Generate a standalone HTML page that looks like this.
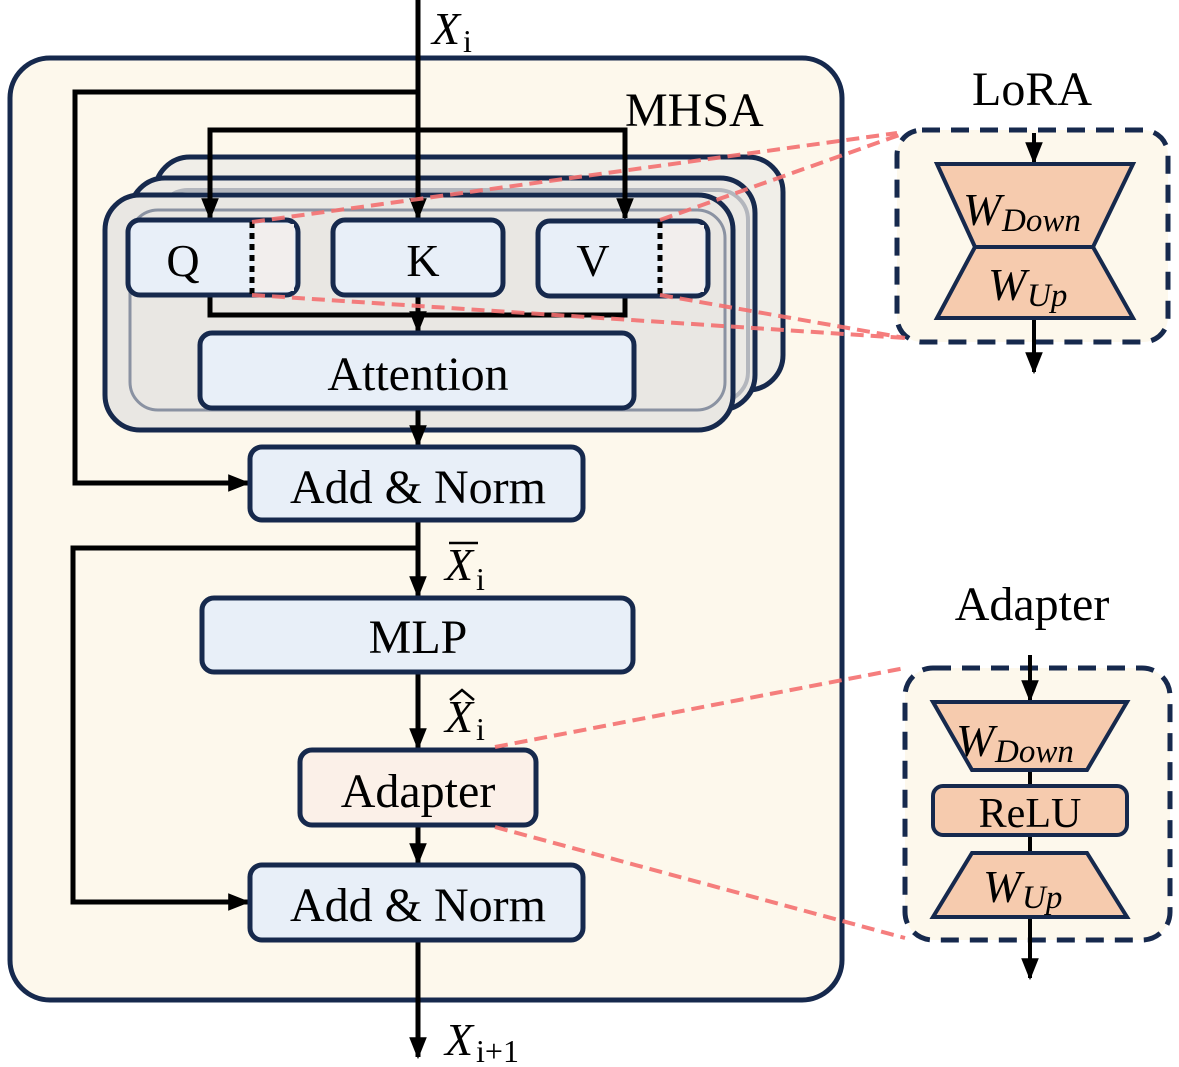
<!DOCTYPE html>
<html><head><meta charset="utf-8"><style>
html,body{margin:0;padding:0;background:#fff;}
svg{display:block;}
text{font-family:"Liberation Serif",serif;fill:#000;}
</style></head><body>
<svg width="1179" height="1067" viewBox="0 0 1179 1067" xmlns="http://www.w3.org/2000/svg">
<defs>
<marker id="a" viewBox="0 0 10 10" refX="9" refY="5" markerWidth="22" markerHeight="22" markerUnits="userSpaceOnUse" orient="auto"><path d="M0,1 L10,5 L0,9 z" fill="#000"/></marker>
</defs>
<rect x="10" y="58" width="832" height="942" rx="40" fill="#fdf8ec" stroke="#16294d" stroke-width="5"/>
<rect x="155" y="157" width="628" height="233" rx="35" fill="#f0eee8" stroke="#16294d" stroke-width="5"/>
<rect x="130" y="178" width="625" height="232" rx="35" fill="#ebe9e5" stroke="#16294d" stroke-width="5"/>
<rect x="158" y="190" width="590" height="212" rx="30" fill="none" stroke="#b3b6bd" stroke-width="4"/>
<rect x="105" y="195" width="628" height="235" rx="35" fill="#e9e7e3" stroke="#16294d" stroke-width="5"/>
<rect x="130" y="210" width="595" height="200" rx="28" fill="none" stroke="#8a92a2" stroke-width="3"/>
<text x="625" y="126" font-size="48">MHSA</text>
<g stroke="#000" stroke-width="5" fill="none">
<line x1="418" y1="0" x2="418" y2="218" marker-end="url(#a)"/>
<polyline points="418,92 75,92 75,483 248,483" marker-end="url(#a)"/>
<polyline points="210,218 210,130 625,130 625,218"/>
<line x1="210" y1="195" x2="210" y2="218" marker-end="url(#a)"/>
<line x1="625" y1="195" x2="625" y2="218" marker-end="url(#a)"/>
<polyline points="210,295 210,315 625,315 625,297"/>
<line x1="418" y1="295" x2="418" y2="331" marker-end="url(#a)"/>
<line x1="418" y1="408" x2="418" y2="445" marker-end="url(#a)"/>
<line x1="418" y1="520" x2="418" y2="596" marker-end="url(#a)"/>
<polyline points="418,548 73,548 73,902 248,902" marker-end="url(#a)"/>
<line x1="418" y1="672" x2="418" y2="748" marker-end="url(#a)"/>
<line x1="418" y1="825" x2="418" y2="863" marker-end="url(#a)"/>
<line x1="418" y1="940" x2="418" y2="1057" marker-end="url(#a)"/>
</g>
<g stroke="#16294d" stroke-width="5" fill="#e8eff8">
<rect x="128" y="220" width="170" height="75" rx="12"/>
<rect x="333" y="220" width="170" height="75" rx="12"/>
<rect x="538" y="221" width="170" height="75" rx="12"/>
<rect x="200" y="333" width="434" height="75" rx="12"/>
<rect x="250" y="447" width="333" height="73" rx="12"/>
<rect x="202" y="598" width="431" height="74" rx="12"/>
<rect x="300" y="750" width="236" height="75" rx="12" fill="#fbf0e8"/>
<rect x="250" y="865" width="333" height="75" rx="12"/>
</g>
<rect x="254" y="224" width="40" height="67" fill="#f2eeed"/>
<rect x="662" y="225" width="42" height="67" fill="#f2eeed"/>
<g stroke="#000" stroke-width="5" stroke-dasharray="6,5">
<line x1="252" y1="222" x2="252" y2="295"/>
<line x1="660" y1="222" x2="660" y2="296"/>
</g>
<g font-size="46" text-anchor="middle">
<text x="183" y="276">Q</text>
<text x="423" y="276">K</text>
<text x="593" y="276">V</text>
</g>
<g font-size="48" text-anchor="middle">
<text x="418" y="390">Attention</text>
<text x="418" y="503">Add &amp; Norm</text>
<text x="418" y="653">MLP</text>
<text x="418" y="807">Adapter</text>
<text x="418" y="921">Add &amp; Norm</text>
</g>
<g font-size="46">
<text x="432" y="44" font-style="italic">X</text><text x="463" y="52" font-size="32">i</text>
<text x="445" y="580" font-style="italic">X</text><text x="476" y="590" font-size="32">i</text>
<line x1="449" y1="543" x2="478" y2="543" stroke="#000" stroke-width="2.5"/>
<text x="445" y="732" font-style="italic">X</text><text x="476" y="740" font-size="32">i</text>
<polyline points="450,700 462,690 474,700" fill="none" stroke="#000" stroke-width="2.5"/>
<text x="445" y="1055" font-style="italic">X</text><text x="476" y="1062" font-size="32">i+1</text>
</g>
<text x="1032" y="105" font-size="48" text-anchor="middle">LoRA</text>
<rect x="897" y="130" width="271" height="212" rx="25" fill="#fdf8ec" stroke="#16294d" stroke-width="5" stroke-dasharray="18,11"/>
<g stroke="#000" stroke-width="4" fill="none">
<line x1="1034" y1="133" x2="1034" y2="162" marker-end="url(#a)"/>
<line x1="1034" y1="318" x2="1034" y2="372" marker-end="url(#a)"/>
</g>
<g fill="#f6cbae" stroke="#16294d" stroke-width="4">
<polygon points="937,164 1133,164 1093,247 975,247"/>
<polygon points="975,247 1093,247 1133,318 937,318"/>
</g>
<g font-style="italic">
<text x="963" y="225" font-size="46">W</text><text x="1002" y="231" font-size="33">Down</text>
<text x="988" y="300" font-size="46">W</text><text x="1027" y="306" font-size="33">Up</text>
</g>
<text x="1032" y="620" font-size="48" text-anchor="middle">Adapter</text>
<rect x="905" y="668" width="265" height="272" rx="28" fill="#fdf8ec" stroke="#16294d" stroke-width="5" stroke-dasharray="18,11"/>
<g stroke="#000" stroke-width="4" fill="none">
<line x1="1030" y1="655" x2="1030" y2="700" marker-end="url(#a)"/>
<line x1="1030" y1="770" x2="1030" y2="853"/>
<line x1="1030" y1="917" x2="1030" y2="978" marker-end="url(#a)"/>
</g>
<g fill="#f6cbae" stroke="#16294d" stroke-width="4">
<polygon points="933,702 1127,702 1087,770 972,770"/>
<rect x="933" y="786" width="194" height="49" rx="10"/>
<polygon points="972,853 1087,853 1127,917 933,917"/>
</g>
<text x="1030" y="827" font-size="42" text-anchor="middle">ReLU</text>
<g font-style="italic">
<text x="956" y="756" font-size="46">W</text><text x="995" y="762" font-size="33">Down</text>
<text x="983" y="902" font-size="46">W</text><text x="1022" y="908" font-size="33">Up</text>
</g>
<g stroke="#f47070" stroke-width="4" stroke-dasharray="13,7" fill="none" opacity="0.9">
<line x1="252" y1="222" x2="897" y2="133"/>
<line x1="660" y1="220" x2="905" y2="133"/>
<line x1="252" y1="295" x2="905" y2="338"/>
<line x1="660" y1="295" x2="905" y2="338"/>
<line x1="495" y1="747" x2="905" y2="668"/>
<line x1="495" y1="827" x2="905" y2="938"/>
</g>
</svg>
</body></html>
